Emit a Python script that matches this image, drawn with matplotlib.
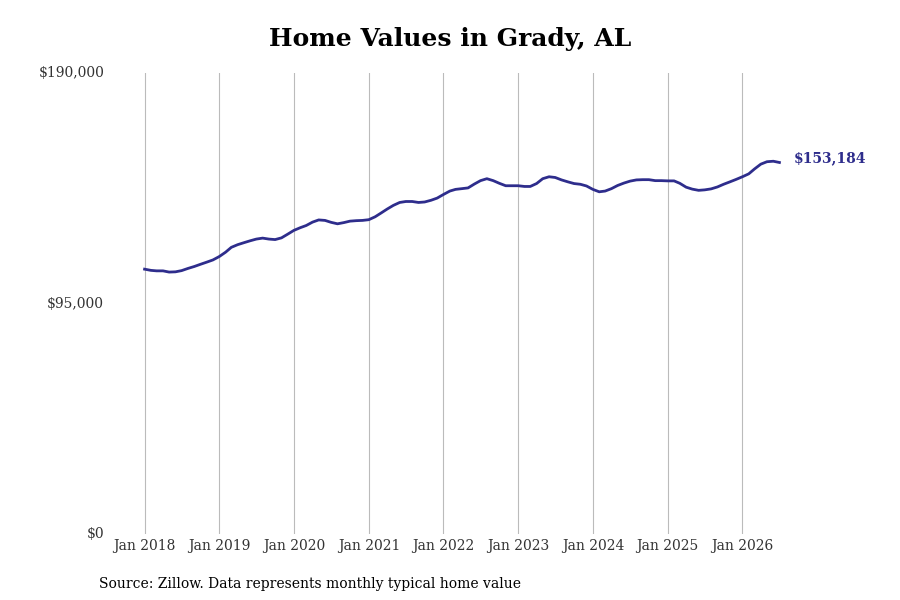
import matplotlib.pyplot as plt
import numpy as np
import pandas as pd

plt.rcParams['font.family'] = ['DejaVu Serif']

# typical home value by month, Jan 2018 - Jul 2026
values = [
    109200, 108700, 108500, 108500, 108000, 108100, 108600, 109500, 110300, 111200, 112100, 113000,
    114400, 116200, 118200, 119300, 120100, 120900, 121600, 122000, 121600, 121400, 122100, 123600,
    125200, 126300, 127200, 128600, 129500, 129300, 128500, 127900, 128400, 129000, 129200, 129300,
    129600, 130800, 132300, 134000, 135500, 136700, 137100, 137100, 136700, 136900, 137600, 138500,
    140000, 141400, 142100, 142400, 142700, 144300, 145700, 146500, 145700, 144600, 143600, 143600,
    143600, 143300, 143300, 144500, 146500, 147300, 147000, 146000, 145200, 144500, 144200, 143500,
    142100, 141100, 141400, 142400, 143700, 144700, 145500, 146000, 146100, 146100, 145700, 145700,
    145600, 145600, 144600, 143000, 142200, 141700, 141900, 142300, 143100, 144200, 145200, 146200,
    147300, 148500, 150500, 152500, 153500, 153700, 153184,
]
dates = pd.date_range('2018-01-01', periods=len(values), freq='MS')
years = list(range(2018, 2027))
color = '#2e2d8c'

fig, ax = plt.subplots(figsize=(9, 6), dpi=100)
fig.subplots_adjust(left=0.122, right=0.894, top=0.878, bottom=0.11)
ax.plot(dates, values, color=color, lw=2)
ax.set_ylim(0, 190000)
ax.set_xlim(pd.Timestamp('2017-07-15'), pd.Timestamp('2026-11-01'))
ax.set_yticks([0, 95000, 190000])
ax.set_yticklabels(['$0', '$95,000', '$190,000'])
ax.set_xticks([pd.Timestamp(f'{y}-01-01') for y in years])
ax.set_xticklabels([f'Jan {y}' for y in years])
ax.grid(axis='x', color='#bbbbbb', lw=0.8)
for s in ax.spines.values():
    s.set_visible(False)
ax.tick_params(length=0, labelsize=10, colors='#333333')
ax.tick_params(axis='y', pad=4)
for lab in ax.get_yticklabels():
    lab.set_verticalalignment('center')
ax.annotate(f'${values[-1]:,}', (dates[-1], values[-1]), xytext=(10, 3),
            textcoords='offset points', color=color, fontsize=10, fontweight='bold', va='center')
fig.suptitle('Home Values in Grady, AL', fontsize=18, fontweight='bold', y=0.955)
fig.text(0.11, 0.02, 'Source: Zillow. Data represents monthly typical home value', fontsize=10)
fig.savefig('out.png')
